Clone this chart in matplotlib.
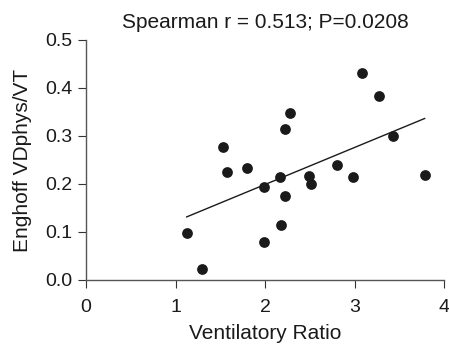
import matplotlib
matplotlib.use("Agg")
import matplotlib.pyplot as plt
import numpy as np

plt.rcParams['font.family'] = ['Liberation Sans', 'DejaVu Sans']

ventilatory_ratio = [1.125, 1.296, 1.527, 1.572, 1.795, 1.993, 1.985, 2.164, 2.182, 2.227,
                     2.223, 2.279, 2.495, 2.514, 2.808, 2.980, 3.084, 3.277, 3.426, 3.784]
vd_vt = [0.097, 0.023, 0.278, 0.224, 0.233, 0.194, 0.080, 0.214, 0.114, 0.175,
         0.315, 0.347, 0.216, 0.201, 0.239, 0.214, 0.431, 0.384, 0.301, 0.218]
x_ticks = [0, 1, 2, 3, 4]
y_ticks = [0.0, 0.1, 0.2, 0.3, 0.4, 0.5]
title = "Spearman r = 0.513; P=0.0208"

fig = plt.figure(figsize=(4.49, 3.45), dpi=100)
ax = fig.add_axes([86/449, 65/345, 358/449, 240/345])

ax.scatter(ventilatory_ratio, vd_vt, s=60, color='#1a1a1a', zorder=3, linewidths=0)
x = np.array(ventilatory_ratio)
slope, intercept = np.polyfit(x, vd_vt, 1)
xl = np.array([x.min(), x.max()])
ax.plot(xl, slope * xl + intercept, color='#1a1a1a', lw=1.0)

ax.set_xlim(0, 4)
ax.set_ylim(0, 0.5)
ax.set_xticks(x_ticks)
ax.set_xticklabels([str(t) for t in x_ticks])
ax.set_yticks(y_ticks)
ax.set_yticklabels([f"{t:.1f}" for t in y_ticks])
for s in ['top', 'right']:
    ax.spines[s].set_visible(False)
for s in ['left', 'bottom']:
    ax.spines[s].set_color('#555555')
    ax.spines[s].set_linewidth(1.0)
ax.tick_params(axis='both', labelsize=14, length=5.5, color='#333333', labelcolor='#1a1a1a')
ax.tick_params(axis='x', pad=8)
ax.tick_params(axis='y', pad=4)
ax.set_xlabel("Ventilatory Ratio", fontsize=15, color='#1a1a1a', labelpad=6)
ax.set_ylabel("Enghoff VDphys/VT", fontsize=15, color='#1a1a1a', labelpad=10)
ax.set_title(title, fontsize=15, color='#1a1a1a', pad=9)

fig.savefig("out.png", dpi=100)
